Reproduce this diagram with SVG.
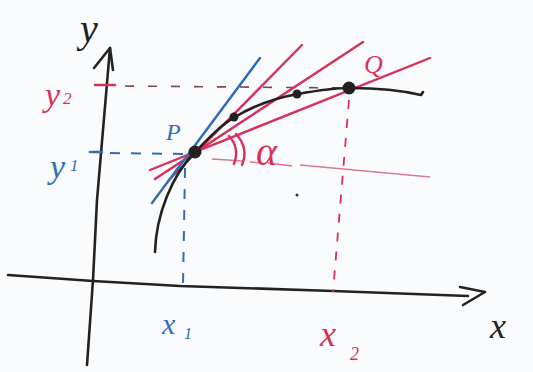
<svg xmlns="http://www.w3.org/2000/svg" width="533" height="372" viewBox="0 0 533 372">
<style>
.k{stroke:#222;fill:none;stroke-width:2.6;stroke-linecap:round;stroke-linejoin:round}
.b{stroke:#2f6db5;fill:none;stroke-width:2.4;stroke-linecap:round}
.r{stroke:#d9305a;fill:none;stroke-width:2.4;stroke-linecap:round}
.rd{stroke:#d9305a;fill:none;stroke-width:1.8;stroke-dasharray:9 10}
.bd{stroke:#2f6db5;fill:none;stroke-width:2;stroke-dasharray:10 11}
.gd{stroke:#7a4655;fill:none;stroke-width:1.6;stroke-dasharray:9 14}
.pk{stroke:#d97890;fill:none;stroke-width:1.4}
.t{font-family:"Liberation Serif",serif;font-style:italic}
.tk{fill:#222}.tb{fill:#2f6db5}.tr{fill:#d9305a}
</style>
<rect width="533" height="372" fill="#fafbfd"/>
<g id="axes">
<path class="k" d="M87,365 L93,280 L97,200 L110,48"/>
<path class="k" d="M94,68 L110,48 L113,70"/>
<path class="k" d="M8,275 L93,281 L180,286 L333,291 L468,296"/>
<path class="k" d="M460,287 L485,292 L463,305"/>
</g>
<g id="guides">
<path class="bd" d="M110,153 L188,154"/>
<path class="b" d="M90,152 L102,152"/>
<path class="bd" d="M185,168 L183,286"/>
<path class="r" d="M95,85 L115,85"/>
<path class="gd" d="M125,86 L345,88"/>
<path class="rd" d="M349,100 L333,292"/>
<path class="pk" d="M212,159 L242,161 M250,162 L262,163 M268,163 L292,166 M300,165 L430,177"/>
</g>
<g id="secants">
<path class="r" d="M150,170 L430,58"/>
<path class="r" d="M155,179 L363,42"/>
<path class="r" d="M168,181 L302,45"/>
<path class="r" d="M229,136 Q240,148 234,164 M236,134 Q249,148 242,165" stroke-width="2"/>
</g>
<g id="tangent">
<path class="b" d="M152,203 L260,58"/>
</g>
<g id="curve">
<path class="k" d="M155,252 C156,215 172,175 195,152 C210,137 222,124 235,117 C255,105 275,98 298,94 C320,90 335,88 350,88 C375,88 400,90 421,95 L423,92"/>
<circle cx="195" cy="152" r="6.5" fill="#222"/>
<circle cx="234" cy="117" r="4.5" fill="#222"/>
<circle cx="297" cy="94" r="4.5" fill="#222"/>
<circle cx="349" cy="88" r="6.5" fill="#222"/>
<circle cx="297" cy="195" r="1.5" fill="#333"/>
</g>
<g id="labels">
<text class="t tk" x="80" y="42" font-size="40">y</text>
<text class="t tr" x="45" y="106" font-size="34">y</text>
<text class="t tr" x="63" y="104" font-size="17">2</text>
<text class="t tb" x="50" y="178" font-size="34">y</text>
<text class="t tb" x="70" y="171" font-size="17">1</text>
<text class="t tb" x="166" y="140" font-size="24">P</text>
<text class="t tr" x="364" y="73" font-size="26">Q</text>
<text class="t tr" x="256" y="165" font-size="40">α</text>
<text class="t tb" x="162" y="334" font-size="30">x</text>
<text class="t tb" x="184" y="339" font-size="16">1</text>
<text class="t tr" x="320" y="346" font-size="36">x</text>
<text class="t tr" x="350" y="360" font-size="18">2</text>
<text class="t tk" x="490" y="338" font-size="36">x</text>
</g>
</svg>
